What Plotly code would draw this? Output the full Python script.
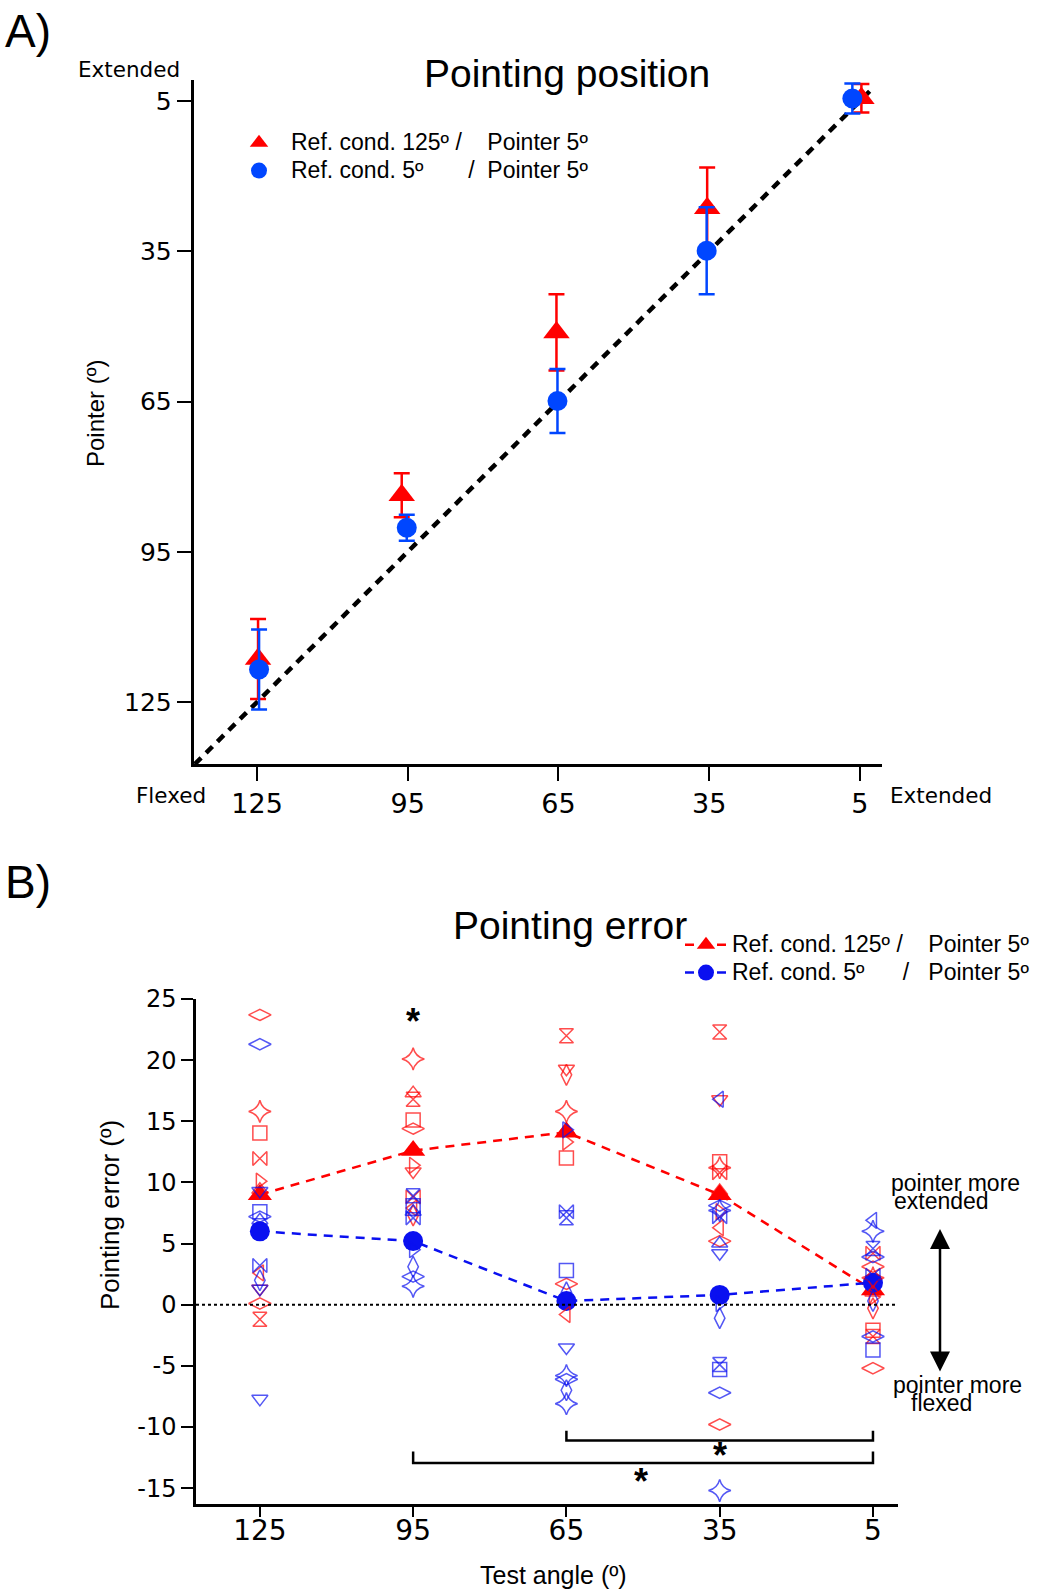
import plotly.graph_objects as go

W, H = 1038, 1591

RED = "#ff0000"
BLUE_A = "#0046ff"
BLUE_B = "#0a10f0"
FONT = "Liberation Sans, Arial, sans-serif"
TICK_FONT = "DejaVu Sans, Verdana, sans-serif"

# ---------------- shared ----------------
test_angles = [125, 95, 65, 35, 5]
tick_labels = ["125", "95", "65", "35", "5"]

# ---------------- panel A: pointing position (mean ± s.e.m.) ----------------
pos_red_x = [124.8, 96.2, 65.4, 35.4, 4.7]
pos_red_y = [116.4, 83.7, 51.2, 26.4, 4.45]
pos_red_err = [8.0, 4.4, 7.6, 8.1, 2.85]

pos_blue_x = [124.6, 95.2, 65.2, 35.5, 6.5]
pos_blue_y = [118.5, 90.2, 64.9, 34.9, 4.5]
pos_blue_err = [8.0, 2.6, 6.4, 8.7, 3.0]

unity_line = [137.4, 2.3]

# ---------------- panel B: pointing error ----------------
err_ticks = [-15, -10, -5, 0, 5, 10, 15, 20, 25]
err_tick_labels = ["-15", "-10", "-5", "0", "5", "10", "15", "20", "25"]

err_red_mean = [9.0, 12.6, 14.1, 9.0, 1.2]
err_blue_mean = [6.0, 5.2, 0.3, 0.8, 1.8]

# individual subjects, reference condition 125º
subj_red_angle = ([125] * 10 + [95] * 10 + [65] * 9 + [35] * 10 + [5] * 9)
subj_red_err = [23.7, 15.8, 14.05, 11.95, 10.1, 9.4, 2.6, 1.3, 0.1, -1.2,
                20.1, 17.3, 16.8, 15.1, 14.4, 11.4, 10.9, 8.8, 7.9, 7.3,
                22.0, 19.3, 18.8, 15.8, 14.3, 13.3, 12.0, 1.7, -0.8,
                22.3, 16.8, 11.7, 11.2, 10.8, 9.3, 7.6, 6.3, 5.2, -9.8,
                4.2, 3.1, 2.2, 1.0, 0.6, -0.3, -2.1, -2.6, -5.2]
subj_red_sym = ["dw", "sd", "sq", "bt", "tr", "tu", "tl", "td", "dw", "hg",
                "sd", "tu", "hg", "sq", "dw", "tr", "td", "bt", "tl", "dt",
                "hg", "td", "dt", "sd", "tu", "tr", "sq", "dw", "tl",
                "hg", "td", "sq", "sd", "bt", "tu", "tr", "tl", "dw", "dw",
                "bt", "dw", "sd", "tu", "tr", "dt", "sq", "hg", "dw"]

# individual subjects, reference condition 5º
subj_blue_angle = ([125] * 9 + [95] * 8 + [65] * 10 + [35] * 12 + [5] * 8)
subj_blue_err = [21.3, 9.3, 7.6, 7.2, 6.9, 3.2, 2.0, 1.3, -7.7,
                 8.9, 8.1, 7.6, 7.1, 4.5, 3.1, 2.3, 1.5,
                 14.3, 7.6, 7.1, 2.8, 1.0, -3.5, -5.8, -6.1, -7.0, -8.1,
                 16.8, 8.1, 7.7, 7.2, 5.0, 4.2, 0.1, -1.1, -4.9, -5.3, -7.2, -15.2,
                 6.9, 6.0, 4.6, 3.9, 2.4, 0.3, -2.6, -3.7]
subj_blue_sym = ["dw", "td", "sq", "dw", "tu", "bt", "dt", "td", "td",
                 "hg", "sq", "tu", "bt", "tr", "dt", "dw", "sd",
                 "tr", "bt", "hg", "sq", "dt", "td", "sd", "dw", "dt", "sd",
                 "tl", "dw", "sd", "bt", "tu", "td", "tr", "dt", "hg", "sq", "dw", "sd",
                 "tl", "sd", "hg", "dw", "bt", "dt", "dw", "sq"]

# significance marks
star_x = [95, 65, 35]
star_y = [23.5, 25.8, 25.3]
bracket_short_x = [65, 65, 5, 5]
bracket_short_y = [-10.3, -11.1, -11.1, -10.3]
bracket_long_x = [95, 95, 5, 5]
bracket_long_y = [-12.0, -12.95, -12.95, -12.0]
bracket_star_x = [35, 50.5]
bracket_star_y = [-12.0, -14.1]

SYMBOLS = {
    "dw": ("diamond-wide-open", 16), "dt": ("diamond-tall-open", 15),
    "sd": ("star-diamond-open", 16), "sq": ("square-open", 14),
    "bt": ("bowtie-open", 14), "hg": ("hourglass-open", 14),
    "tu": ("triangle-up-open", 14), "td": ("triangle-down-open", 14),
    "tl": ("triangle-left-open", 14), "tr": ("triangle-right-open", 14),
}


def px(p):
    return p / W


def py(p):
    return 1 - p / H


def big(text):
    # legend label drawn at 23 px while the row pitch follows the smaller legend font
    return f"<span style='font-size:23px'>{text}</span>"


nb = "\u00a0"
label_a_red = big(f"Ref. cond. 125º /{nb * 4}Pointer 5º")
label_a_blue = big(f"Ref. cond. 5º{nb * 7}/{nb * 2}Pointer 5º")
label_b_red = big(f"Ref. cond. 125º /{nb * 4}Pointer 5º")
label_b_blue = big(f"Ref. cond. 5º{nb * 6}/{nb * 3}Pointer 5º")

fig = go.Figure()

# ---- panel A traces ----
fig.add_trace(go.Scatter(
    x=unity_line, y=unity_line, mode="lines", xaxis="x", yaxis="y",
    line=dict(color="black", width=4.5, dash="9px,7px"), showlegend=False,
    hoverinfo="skip"))
fig.add_trace(go.Scatter(
    x=pos_red_x, y=pos_red_y, mode="markers", xaxis="x", yaxis="y",
    name=label_a_red, legend="legend",
    marker=dict(symbol="triangle-up", size=23, color=RED),
    error_y=dict(type="data", array=pos_red_err, color=RED, thickness=2.5, width=8)))
fig.add_trace(go.Scatter(
    x=pos_blue_x, y=pos_blue_y, mode="markers", xaxis="x", yaxis="y",
    name=label_a_blue, legend="legend",
    marker=dict(symbol="circle", size=20, color=BLUE_A),
    error_y=dict(type="data", array=pos_blue_err, color=BLUE_A, thickness=2.5, width=8)))

# ---- panel B traces ----
fig.add_trace(go.Scatter(
    x=test_angles, y=err_red_mean, mode="lines+markers", xaxis="x2", yaxis="y2",
    name=label_b_red, legend="legend2",
    line=dict(color=RED, width=2.5, dash="9px,7px"),
    marker=dict(symbol="triangle-up", size=21, color=RED)))
fig.add_trace(go.Scatter(
    x=test_angles, y=err_blue_mean, mode="lines+markers", xaxis="x2", yaxis="y2",
    name=label_b_blue, legend="legend2",
    line=dict(color=BLUE_B, width=2.5, dash="9px,7px"),
    marker=dict(symbol="circle", size=20, color=BLUE_B)))

for ang, val, sym, col in ((subj_red_angle, subj_red_err, subj_red_sym, RED),
                           (subj_blue_angle, subj_blue_err, subj_blue_sym, BLUE_B)):
    fig.add_trace(go.Scatter(
        x=ang, y=val, mode="markers", xaxis="x2", yaxis="y2", showlegend=False,
        marker=dict(symbol=[SYMBOLS[s][0] for s in sym],
                    size=[SYMBOLS[s][1] for s in sym],
                    color=col, line=dict(color=col, width=1.5))))

for bx, by in ((bracket_short_x, bracket_short_y), (bracket_long_x, bracket_long_y)):
    fig.add_trace(go.Scatter(
        x=bx, y=by, mode="lines", xaxis="x2", yaxis="y2", showlegend=False,
        line=dict(color="black", width=2.5), hoverinfo="skip"))

annotations = []


def txt(text, x, y, size, family=FONT, **kw):
    d = dict(text=text, x=px(x), y=py(y), xref="paper", yref="paper",
             showarrow=False, font=dict(size=size, color="black", family=family),
             xanchor="center", yanchor="middle")
    d.update(kw)
    annotations.append(d)


txt("A)", 28, 31, 46)
txt("B)", 28, 882, 46)
txt("Pointing position", 567, 74, 39)
txt("Pointing error", 570, 925, 39)
txt("Extended", 129, 70, 21.5, TICK_FONT)
txt("Flexed", 171, 795, 21.5, TICK_FONT)
txt("Extended", 941, 795, 21.5, TICK_FONT)
txt("Pointer (º)", 96, 414, 24, textangle=-90)
txt("Pointing error (º)", 110, 1215, 26, textangle=-90)
txt("Test angle (º)", 553, 1575, 25)
txt("pointer more", 955, 1183, 23)
txt("extended", 941, 1201, 23)
txt("pointer more", 957, 1385, 23)
txt("flexed", 941, 1403, 23)

for sx, sy in list(zip(star_x, star_y)) + list(zip(bracket_star_x, bracket_star_y)):
    annotations.append(dict(text="<b>*</b>", x=sx, y=sy, xref="x2", yref="y2",
                            showarrow=False, yshift=-4,
                            font=dict(size=36, color="black", family=FONT)))

# double-headed arrow beside panel B
annotations.append(dict(x=px(940), y=py(1229), xref="paper", yref="paper",
                        ax=0, ay=144, axref="pixel", ayref="pixel", text="",
                        showarrow=True, arrowside="end+start", arrowhead=2,
                        startarrowhead=2, arrowsize=1.6, startarrowsize=1.6,
                        arrowwidth=2.5, arrowcolor="black"))


def axis(size, ticklen=14, standoff=0):
    return dict(showgrid=False, zeroline=False, showline=True, linecolor="black",
                linewidth=2.5, ticks="outside", tickcolor="black", tickwidth=2,
                ticklen=ticklen, automargin=False, ticklabelstandoff=standoff,
                tickfont=dict(size=size, color="black", family=TICK_FONT))


legend_font = dict(size=19, family=FONT, color="black")

fig.update_layout(
    width=W, height=H, autosize=False,
    margin=dict(l=0, r=0, t=0, b=0, pad=0),
    paper_bgcolor="white", plot_bgcolor="white",
    font=dict(family=FONT, color="black"),
    xaxis=dict(domain=[px(193.5), px(882)], range=[137.65, 0.6], anchor="y",
               tickvals=test_angles, ticktext=tick_labels, **axis(27)),
    yaxis=dict(domain=[py(764), py(80)], range=[137.37, 0.81], anchor="x",
               tickvals=test_angles, ticktext=tick_labels, **axis(25)),
    xaxis2=dict(domain=[px(196), px(898)], range=[137.5, 0.1], anchor="y2",
                tickvals=test_angles, ticktext=tick_labels, **axis(28, 10, -10)),
    yaxis2=dict(domain=[py(1504), py(999)], range=[-16.3, 25], anchor="x2",
                tickvals=err_ticks, ticktext=err_tick_labels, **axis(24, 12)),
    legend=dict(x=px(227), y=py(124), xanchor="left", yanchor="top", itemwidth=54,
                bgcolor="rgba(0,0,0,0)", font=legend_font),
    legend2=dict(x=px(680), y=py(926), xanchor="left", yanchor="top", itemwidth=42,
                 bgcolor="rgba(0,0,0,0)", font=legend_font),
    annotations=annotations,
    shapes=[dict(type="line", xref="x2 domain", yref="y2", x0=0, x1=1, y0=0, y1=0,
                 line=dict(color="black", width=2, dash="dot"))],
)

fig.write_html("out.html")
